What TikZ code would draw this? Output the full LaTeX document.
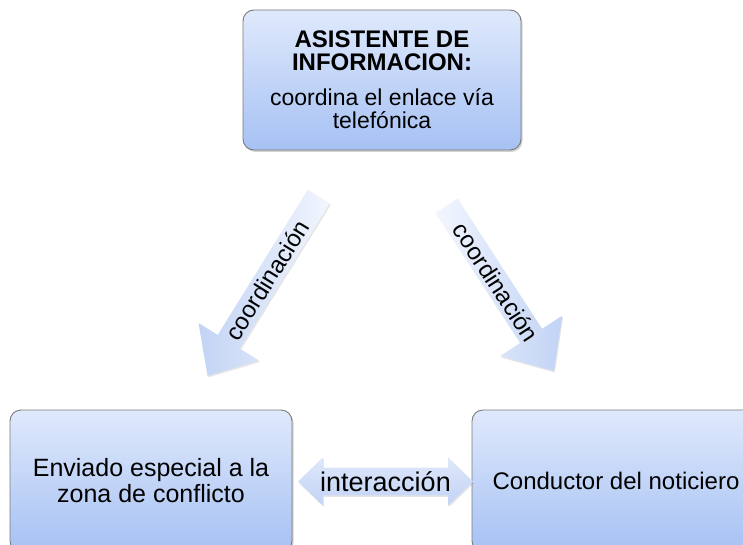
\documentclass[tikz,border=0pt]{standalone}
\usepackage{fontspec}
\setmainfont{Liberation Sans}
\usetikzlibrary{shapes.arrows,shadows}
\definecolor{boxtop}{HTML}{DFE9FC}
\definecolor{boxbot}{HTML}{A6C1F3}
\definecolor{boxline}{HTML}{7A7A7A}
\definecolor{arrhead}{HTML}{C2D3F5}
\definecolor{arrtail}{HTML}{F2F6FE}
\tikzset{
  infobox/.style={draw=boxline, line width=0.9pt, rounded corners=11pt,
    top color=boxtop, bottom color=boxbot, align=center, inner sep=0pt,
    drop shadow={shadow xshift=1.5pt, shadow yshift=-2pt, opacity=0.35}},
  blockarrow/.style={single arrow, draw=none, inner sep=0pt,
    shape border rotate=180, single arrow tip angle=83,
    left color=arrhead, right color=arrtail,
    drop shadow={shadow xshift=1pt, shadow yshift=-1.5pt, opacity=0.2}},
  biarrow/.style={double arrow, draw=none, inner sep=0pt,
    double arrow tip angle=88, top color=arrtail!60!arrhead, bottom color=arrhead,
    drop shadow={shadow xshift=1pt, shadow yshift=-1.5pt, opacity=0.2}},
  lbl/.style={font=\fontsize{24}{26}\selectfont}
}
\begin{document}
\begin{tikzpicture}[x=1pt,y=-1pt]
\clip (0,0) rectangle (743,545);
\fill[white] (0,0) rectangle (743,545);
% boxes
\node[infobox, minimum width=278pt, minimum height=140pt,
  font=\fontsize{23}{23}\selectfont] (top) at (382,80)
  {{\bfseries\fontsize{24}{23}\selectfont ASISTENTE DE}\\
   {\bfseries\fontsize{24}{23}\selectfont INFORMACION:}\\[12pt]
   coordina el enlace vía\\
   telefónica};
\node[infobox, minimum width=282pt, minimum height=142pt,
  font=\fontsize{25}{26}\selectfont] (left) at (151,481)
  {Enviado especial a la\\zona de conflicto};
\node[infobox, minimum width=288pt, minimum height=142pt,
  font=\fontsize{24}{26}\selectfont] (right) at (616,481)
  {Conductor del noticiero};
% block arrows
\node[blockarrow, lbl, rotate=58.2, minimum height=211pt, minimum width=71pt,
  single arrow head extend=16pt] (arrL) at (267,280) {coordinación};
\node[blockarrow, lbl, rotate=-57, shape border rotate=0,
  left color=arrtail, right color=arrhead,
  minimum height=197pt, minimum width=74pt,
  single arrow head extend=17pt] (arrR) at (496.25,282.25) {coordinación};
\node[biarrow, font=\fontsize{27}{28}\selectfont, minimum height=175pt,
  minimum width=48pt, double arrow head extend=7.5pt] (mid) at (385.5,481.5)
  {interacción};
\end{tikzpicture}
\end{document}
